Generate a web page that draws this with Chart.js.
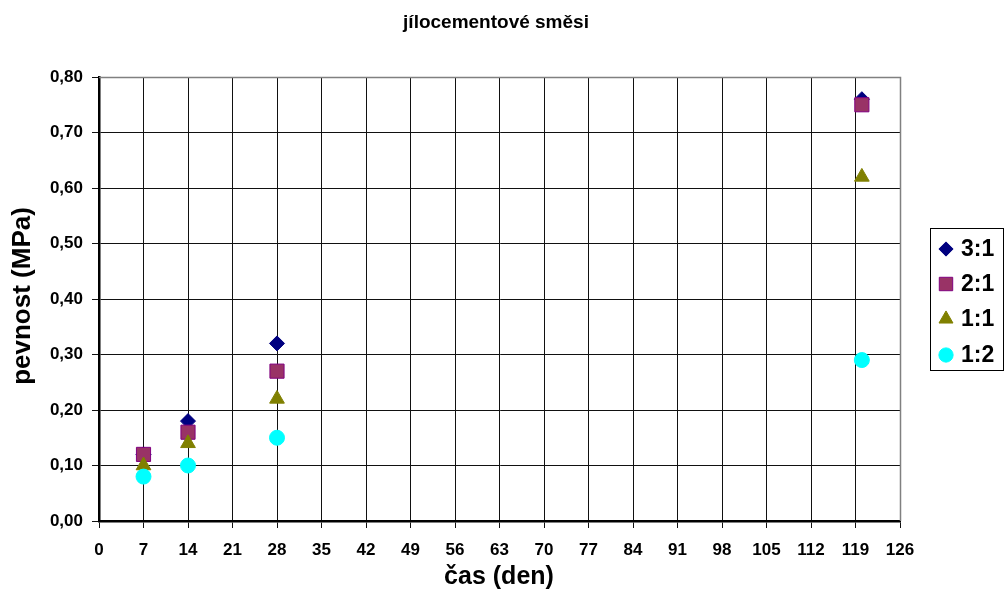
<!DOCTYPE html>
<html>
<head>
<meta charset="utf-8">
<script src="https://cdn.jsdelivr.net/npm/chart.js@4.4.1/dist/chart.umd.min.js"></script>
<style>
  html, body { margin: 0; padding: 0; background: #fff; }
  #wrap { width: 1004px; height: 602px; position: relative; }
</style>
</head>
<body>
<div id="wrap"><canvas id="chart" width="1004" height="602"></canvas></div>
<script>
// data
const days = [7, 14, 28, 120];
const series31 = [0.12, 0.18, 0.32, 0.76];
const series21 = [0.12, 0.16, 0.27, 0.75];
const series11 = [0.10, 0.14, 0.22, 0.62];
const series12 = [0.08, 0.10, 0.15, 0.29];
const seriesNames = ["3:1", "2:1", "1:1", "1:2"];
const chartTitle = "jílocementové směsi";
const xTitle = "čas (den)";
const yTitle = "pevnost (MPa)";

const FONT = "'Liberation Sans', Arial, sans-serif";

function pts(ys) {
  return days.map((d, i) => ({ x: d, y: ys[i] }));
}

const styles = [
  { pointStyle: 'rectRot', radius: 7.5, bg: '#000080', border: '#000080' },
  { pointStyle: 'rect', radius: 10, bg: '#993366', border: '#800080' },
  { pointStyle: 'triangle', radius: 8.5, bg: '#808000', border: '#808000' },
  { pointStyle: 'circle', radius: 7.5, bg: '#00FFFF', border: '#00FFFF' }
];
const allSeries = [series31, series21, series11, series12];

const datasets = allSeries.map((s, i) => ({
  label: seriesNames[i],
  data: pts(s),
  pointStyle: styles[i].pointStyle,
  pointRadius: styles[i].radius,
  pointHoverRadius: styles[i].radius,
  pointBackgroundColor: styles[i].bg,
  pointBorderColor: styles[i].border,
  pointBorderWidth: 1,
  showLine: false,
  order: 4 - i
}));

// titles, gray frame and legend box
const extras = {
  id: 'extras',
  beforeDatasetsDraw(chart) {
    const ctx = chart.ctx;
    const a = chart.chartArea;
    ctx.save();
    ctx.strokeStyle = '#808080';
    ctx.lineWidth = 1.5;
    ctx.beginPath();
    ctx.moveTo(a.left, a.top + 0.5);
    ctx.lineTo(a.right + 0.5, a.top + 0.5);
    ctx.lineTo(a.right + 0.5, a.bottom);
    ctx.stroke();
    ctx.restore();
  },
  afterDraw(chart) {
    const ctx = chart.ctx;
    ctx.save();
    ctx.fillStyle = '#000';
    ctx.textAlign = 'center';
    ctx.textBaseline = 'middle';
    ctx.font = "bold 19px " + FONT;
    ctx.fillText(chartTitle, 496, 23);

    ctx.font = "bold 25px " + FONT;
    ctx.fillText(xTitle, 499, 577);

    ctx.save();
    ctx.translate(23, 296);
    ctx.rotate(-Math.PI / 2);
    ctx.font = "bold 26px " + FONT;
    ctx.fillText(yTitle, 0, 0);
    ctx.restore();

    // legend
    ctx.strokeStyle = '#000';
    ctx.lineWidth = 1;
    ctx.strokeRect(930.5, 228.5, 73, 142);
    const rows = [249, 284, 319, 355];
    ctx.font = "bold 23px " + FONT;
    ctx.textAlign = 'left';
    rows.forEach((y, i) => {
      const st = styles[i];
      ctx.fillStyle = st.bg;
      ctx.strokeStyle = st.border;
      Chart.helpers.drawPoint(ctx, {
        pointStyle: st.pointStyle,
        radius: st.radius * 0.95,
        borderWidth: 1
      }, 946, y);
      ctx.fillStyle = '#000';
      ctx.fillText(seriesNames[i], 961, y + 1);
    });
    ctx.restore();
  }
};

new Chart(document.getElementById('chart').getContext('2d'), {
  type: 'scatter',
  data: { datasets: datasets },
  options: {
    responsive: false,
    animation: false,
    layout: { padding: { top: 77, right: 104, bottom: 0, left: 0 } },
    plugins: {
      legend: { display: false },
      title: { display: false },
      tooltip: { enabled: false }
    },
    scales: {
      x: {
        type: 'linear',
        min: 0,
        max: 126,
        afterFit(scale) { scale.height = 81; },
        afterBuildTicks(scale) {
          const t = [];
          for (let v = 0; v <= 126; v += 7) t.push({ value: v });
          scale.ticks = t;
        },
        ticks: {
          color: '#000',
          font: { family: FONT, size: 17, weight: 'bold' },
          padding: 12,
          maxRotation: 0,
          autoSkip: false
        },
        grid: { color: '#111', lineWidth: 1, tickLength: 7, drawTicks: true },
        border: { color: '#000', width: 2.5 },
        title: { display: false }
      },
      y: {
        min: 0,
        max: 0.8,
        afterFit(scale) { scale.width = 99; },
        afterBuildTicks(scale) {
          const t = [];
          for (let k = 0; k <= 8; k++) t.push({ value: k / 10 });
          scale.ticks = t;
        },
        ticks: {
          color: '#000',
          font: { family: FONT, size: 17, weight: 'bold' },
          padding: 9,
          callback: v => v.toFixed(2).replace('.', ',')
        },
        grid: { color: '#111', lineWidth: 1, tickLength: 7, drawTicks: true },
        border: { color: '#000', width: 2.5 },
        title: { display: false }
      }
    }
  },
  plugins: [extras]
});
</script>
</body>
</html>
